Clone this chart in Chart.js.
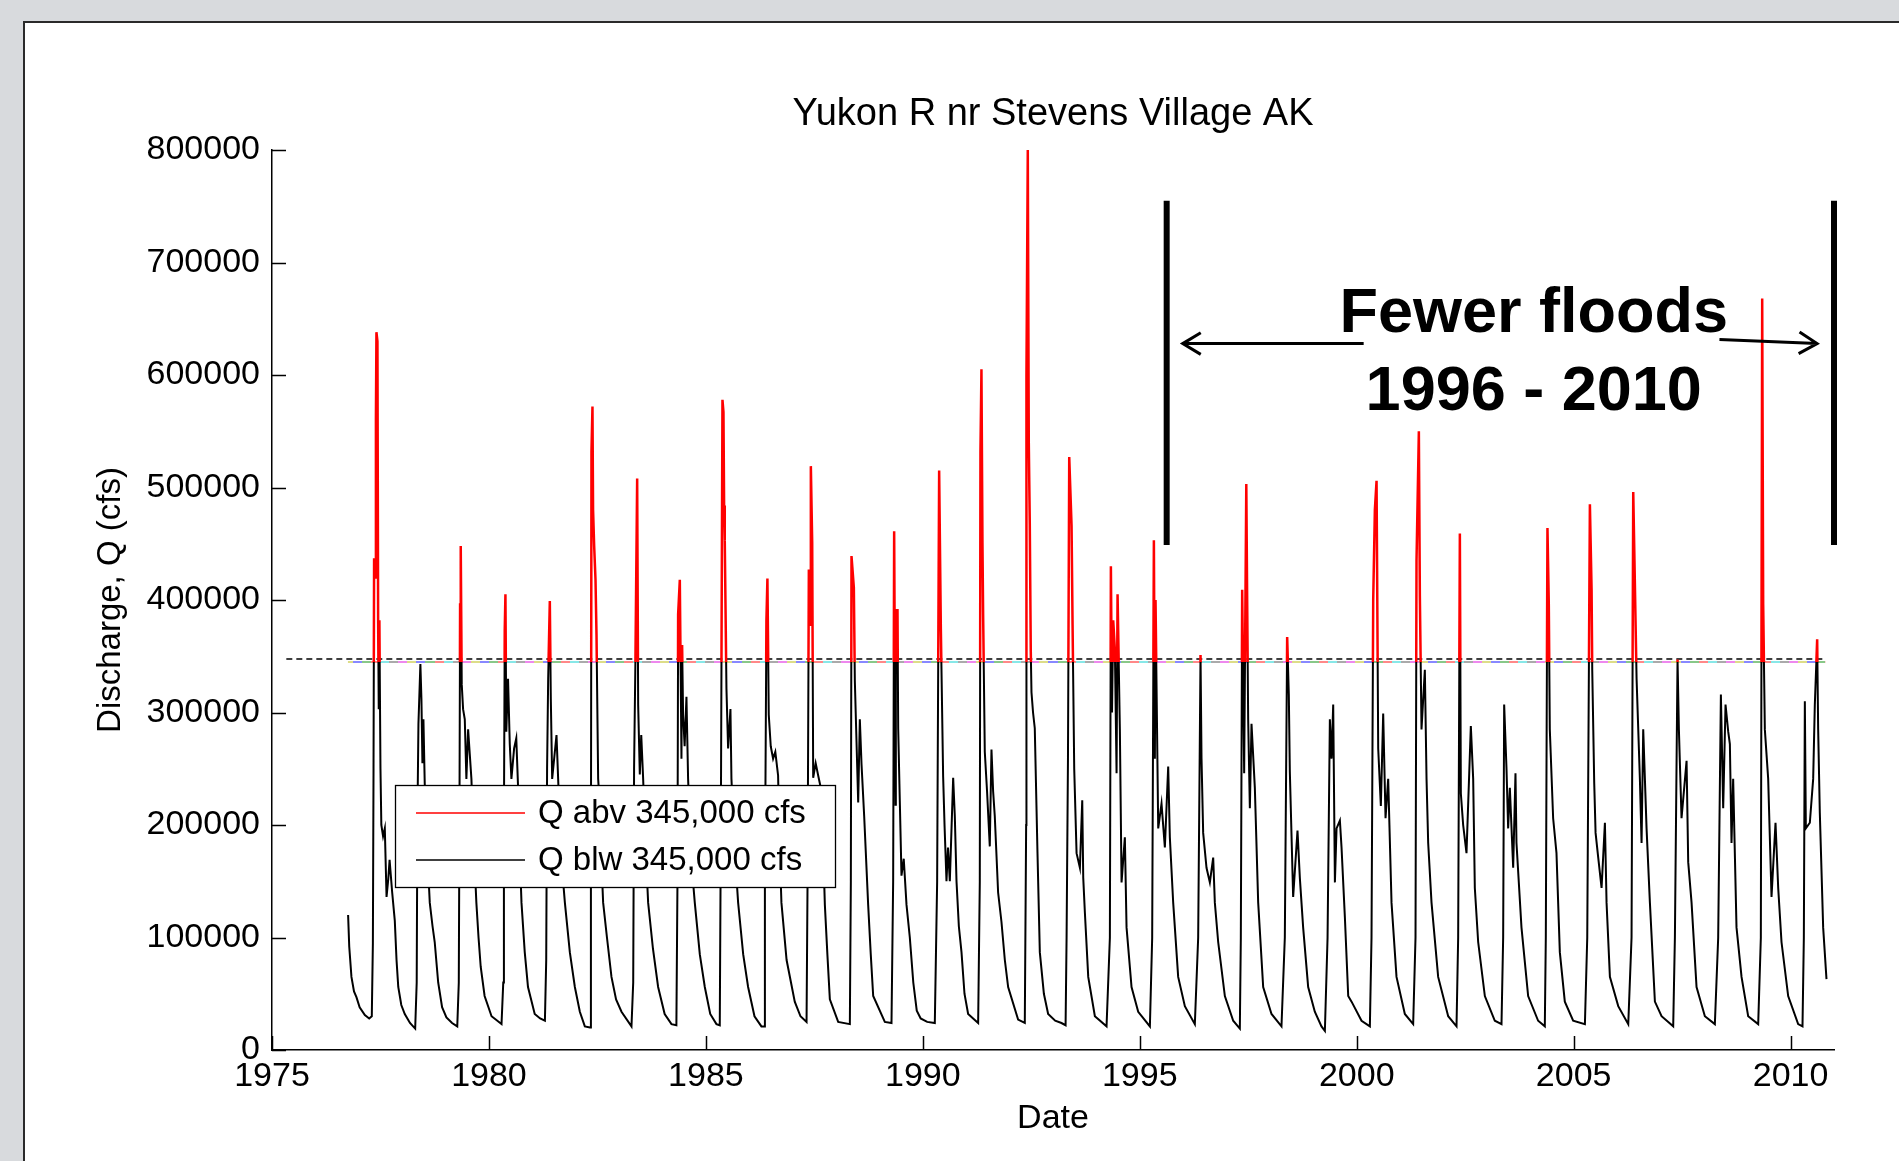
<!DOCTYPE html>
<html>
<head>
<meta charset="utf-8">
<title>Yukon R nr Stevens Village AK</title>
<script src="https://cdn.jsdelivr.net/npm/chart.js@4.4.0/dist/chart.umd.min.js"></script>
<style>
  html, body { margin: 0; padding: 0; overflow: hidden; background: #d8dadd; }
  #panel { position: absolute; left: 23px; top: 21px; width: 1900px; height: 1160px;
           background: #fff; border-left: 2px solid #2a2a2a; border-top: 2px solid #2a2a2a; }
  #wrap { position: absolute; left: 0; top: 0; width: 1899px; height: 1161px; }
</style>
</head>
<body>
<div id="panel"></div>
<div id="wrap"><canvas id="flowChart"></canvas></div>
<script>
// daily discharge, [decimal year, cfs]
var q1970s = [
  [1976.754,120000],[1976.78,92000],[1976.831,65000],[1976.89,52000],[1976.946,47000],[1977.02,38000],[1977.14,31000],[1977.24,28000],[1977.30,30000],
  [1977.325,95000],[1977.34,250000],[1977.353,437000],[1977.38,420000],[1977.395,560000],[1977.407,638000],[1977.43,630000],[1977.446,382000],[1977.46,303000],[1977.475,382000],[1977.50,250000],[1977.52,200000],[1977.56,190000],[1977.60,197000],[1977.64,136000],[1977.68,152000],[1977.71,169000],[1977.77,140000],[1977.83,115000],[1977.87,80000],[1977.91,56000],[1977.98,40000],[1978.06,32000],[1978.18,24000],[1978.30,19000],
  [1978.335,60000],[1978.35,200000],[1978.375,290000],[1978.42,343000],[1978.444,312000],[1978.467,255000],[1978.49,294000],[1978.52,237000],[1978.56,197000],[1978.60,160000],[1978.636,131000],[1978.70,110000],[1978.75,96000],[1978.83,60000],[1978.92,38000],[1979.02,29000],[1979.15,24000],[1979.27,21000],
  [1979.305,60000],[1979.32,200000],[1979.335,396000],[1979.35,448000],[1979.373,325000],[1979.404,303000],[1979.443,294000],[1979.48,241000],[1979.52,285000],[1979.558,263000],[1979.596,241000],[1979.635,197000],[1979.71,131000],[1979.76,100000],[1979.81,74000],[1979.90,48000]
];
var q1980s = [
  [1980.06,30000],[1980.29,23000],
  [1980.33,60000],[1980.345,200000],[1980.364,373000],[1980.38,405000],[1980.40,283000],[1980.44,330000],[1980.48,272000],[1980.518,241000],[1980.58,268000],[1980.63,277000],[1980.67,235000],[1980.71,175000],[1980.75,131000],[1980.825,87000],[1980.90,56000],[1981.055,32000],[1981.18,28000],[1981.29,26000],
  [1981.32,80000],[1981.34,250000],[1981.365,330000],[1981.403,399000],[1981.426,312000],[1981.457,241000],[1981.503,259000],[1981.557,280000],[1981.595,241000],[1981.657,175000],[1981.75,131000],[1981.864,87000],[1981.98,56000],[1982.095,34000],[1982.21,21000],[1982.33,20000],
  [1982.35,150000],[1982.363,532000],[1982.386,572000],[1982.40,480000],[1982.425,448000],[1982.456,418000],[1982.479,369000],[1982.517,241000],[1982.55,220000],[1982.59,170000],[1982.632,131000],[1982.72,100000],[1982.824,65000],[1982.93,45000],[1983.055,34000],[1983.285,21000],
  [1983.325,60000],[1983.345,250000],[1983.377,350000],[1983.416,508000],[1983.439,307000],[1983.477,245000],[1983.51,280000],[1983.554,241000],[1983.61,180000],[1983.669,131000],[1983.78,90000],[1983.899,56000],[1984.05,32000],[1984.207,23000],[1984.32,22000],
  [1984.345,150000],[1984.36,387000],[1984.399,418000],[1984.437,259000],[1984.452,360000],[1984.475,298000],[1984.51,270000],[1984.552,314000],[1984.59,241000],[1984.66,170000],[1984.744,131000],[1984.86,85000],[1984.975,56000],[1985.10,32000],[1985.243,23000],[1985.32,22000],
  [1985.345,200000],[1985.382,578000],[1985.405,567000],[1985.42,484000],[1985.435,453000],[1985.474,321000],[1985.512,268000],[1985.566,303000],[1985.589,241000],[1985.66,180000],[1985.743,131000],[1985.86,85000],[1985.973,56000],[1986.12,30000],[1986.28,21000],[1986.34,21000],
  [1986.36,150000],[1986.395,382000],[1986.418,419000],[1986.449,298000],[1986.495,270000],[1986.549,259000],[1986.60,265000],[1986.664,244000],[1986.70,180000],[1986.741,131000],[1986.86,80000],[1987.048,43000],[1987.18,30000],[1987.32,25000],
  [1987.343,150000],[1987.373,427000],[1987.40,378000],[1987.419,519000],[1987.45,451000],[1987.473,242000],[1987.53,255000],[1987.588,244000],[1987.665,230000],[1987.742,129000],[1987.80,85000],[1987.857,45000],[1988.049,25000],[1988.318,23000],
  [1988.341,150000],[1988.356,439000],[1988.41,411000],[1988.433,328000],[1988.51,220000],[1988.548,294000],[1988.587,254000],[1988.648,208000],[1988.74,129000],[1988.80,85000],[1988.856,48000],[1989.124,25000],[1989.278,24000],
  [1989.316,150000],[1989.339,461000],[1989.37,218000],[1989.378,391000],[1989.416,391000],[1989.432,286000],[1989.47,220000],[1989.508,155000],[1989.56,170000],[1989.624,129000],[1989.70,100000],[1989.78,60000],[1989.86,35000],[1989.95,28000]
];
var q1990s = [
  [1990.10,25000],[1990.276,24000],
  [1990.33,150000],[1990.376,515000],[1990.415,375000],[1990.468,243000],[1990.50,200000],[1990.545,150000],[1990.58,180000],[1990.622,150000],[1990.699,242000],[1990.737,208000],[1990.776,150000],[1990.83,110000],[1990.891,87000],[1990.96,50000],[1991.044,32000],[1991.275,24000],
  [1991.313,150000],[1991.328,532000],[1991.351,605000],[1991.374,451000],[1991.39,386000],[1991.428,265000],[1991.48,230000],[1991.543,181000],[1991.582,267000],[1991.62,230000],[1991.658,208000],[1991.735,140000],[1991.812,114000],[1991.89,80000],[1991.966,56000],[1992.196,27000],[1992.35,24000],
  [1992.381,200000],[1992.388,600000],[1992.419,800000],[1992.442,540000],[1992.465,467000],[1992.488,354000],[1992.504,318000],[1992.54,300000],[1992.58,286000],[1992.642,176000],[1992.696,87000],[1992.79,50000],[1992.888,32000],[1993.05,26000],[1993.195,24000],[1993.29,22000],
  [1993.313,100000],[1993.345,259000],[1993.374,527000],[1993.428,466000],[1993.451,378000],[1993.489,250000],[1993.543,175000],[1993.62,162000],[1993.674,222000],[1993.697,153000],[1993.735,122000],[1993.812,65000],[1993.965,30000],[1994.234,21000],
  [1994.311,100000],[1994.334,430000],[1994.36,300000],[1994.388,382000],[1994.426,356000],[1994.465,246000],[1994.488,405000],[1994.541,285000],[1994.58,149000],[1994.656,189000],[1994.695,109000],[1994.81,56000],[1994.964,34000],[1995.233,21000],
  [1995.286,100000],[1995.325,453000],[1995.348,259000],[1995.363,400000],[1995.425,197000],[1995.501,219000],[1995.578,180000],[1995.655,252000],[1995.693,189000],[1995.77,131000],[1995.885,65000],[1996.039,39000],[1996.269,23000],
  [1996.346,100000],[1996.40,351000],[1996.423,259000],[1996.461,193000],[1996.538,162000],[1996.615,149000],[1996.692,171000],[1996.73,131000],[1996.807,96000],[1996.961,48000],[1997.153,26000],[1997.306,19000],
  [1997.329,100000],[1997.36,409000],[1997.406,246000],[1997.455,503000],[1997.475,400000],[1997.498,294000],[1997.537,215000],[1997.575,290000],[1997.652,233000],[1997.729,131000],[1997.844,56000],[1998.036,32000],[1998.266,21000],
  [1998.343,100000],[1998.397,367000],[1998.435,316000],[1998.458,248000],[1998.535,136000],[1998.635,195000],[1998.689,153000],[1998.765,109000],[1998.881,56000],[1999.034,34000],[1999.188,21000],[1999.266,17000],
  [1999.328,100000],[1999.381,294000],[1999.42,259000],[1999.458,307000],[1999.497,149000],[1999.535,197000],[1999.612,204000],[1999.65,180000],[1999.727,118000],[1999.804,48000],[1999.881,43000]
];
var q2000s = [
  [2000.111,26000],[2000.303,21000],
  [2000.341,100000],[2000.38,400000],[2000.418,480000],[2000.457,506000],[2000.495,268000],[2000.556,217000],[2000.61,299000],[2000.664,206000],[2000.725,241000],[2000.802,131000],[2000.917,65000],[2001.109,32000],[2001.301,23000],
  [2001.355,100000],[2001.378,435000],[2001.432,550000],[2001.455,404000],[2001.493,285000],[2001.57,338000],[2001.609,241000],[2001.647,184000],[2001.724,131000],[2001.877,65000],[2002.108,30000],[2002.30,21000],
  [2002.338,100000],[2002.377,459000],[2002.40,228000],[2002.453,200000],[2002.53,175000],[2002.63,288000],[2002.684,241000],[2002.722,144000],[2002.799,96000],[2002.953,48000],[2003.183,26000],[2003.337,23000],
  [2003.375,100000],[2003.398,307000],[2003.452,250000],[2003.49,197000],[2003.529,233000],[2003.606,162000],[2003.659,246000],[2003.682,184000],[2003.797,109000],[2003.951,48000],[2004.181,26000],[2004.335,21000],
  [2004.358,100000],[2004.396,464000],[2004.427,396000],[2004.45,285000],[2004.527,206000],[2004.604,175000],[2004.681,87000],[2004.796,43000],[2004.988,26000],[2005.259,23000],
  [2005.313,100000],[2005.374,485000],[2005.413,409000],[2005.428,338000],[2005.474,237000],[2005.505,193000],[2005.566,171000],[2005.643,144000],[2005.72,202000],[2005.758,131000],[2005.835,65000],[2006.027,39000],[2006.258,23000],
  [2006.334,100000],[2006.373,496000],[2006.45,330000],[2006.526,241000],[2006.565,184000],[2006.603,285000],[2006.68,197000],[2006.757,131000],[2006.872,43000],[2007.026,30000],[2007.294,21000],
  [2007.333,100000],[2007.394,347000],[2007.425,285000],[2007.486,206000],[2007.602,257000],[2007.64,167000],[2007.717,131000],[2007.832,56000],[2008.024,30000],[2008.254,23000],
  [2008.331,100000],[2008.393,316000],[2008.446,215000],[2008.50,307000],[2008.562,283000],[2008.60,272000],[2008.638,184000],[2008.676,241000],[2008.753,109000],[2008.869,65000],[2009.022,30000],[2009.253,23000],
  [2009.314,100000],[2009.345,668000],[2009.368,396000],[2009.406,285000],[2009.483,241000],[2009.56,136000],[2009.652,202000],[2009.714,144000],[2009.79,96000],[2009.944,48000],[2010.174,23000],[2010.274,21000]
];
var q2010s = [
  [2010.305,100000],[2010.328,310000],[2010.351,197000],[2010.443,202000],[2010.52,241000],[2010.558,307000],[2010.612,365000],[2010.635,285000],[2010.673,211000],[2010.75,109000],[2010.827,63000]
];

var floodThreshold = 345000;
var dashedLineX = [1975.33, 2010.79];
var dashedLineY = [347500, 347500];
var colorLineX = [1976.75, 2010.8];
var colorLineY = [345000, 345000];

var xTicks = [1975, 1980, 1985, 1990, 1995, 2000, 2005, 2010];
var xTickLabels = ['1975', '1980', '1985', '1990', '1995', '2000', '2005', '2010'];
var yTicks = [0, 100000, 200000, 300000, 400000, 500000, 600000, 700000, 800000];
var yTickLabels = ['0', '100000', '200000', '300000', '400000', '500000', '600000', '700000', '800000'];

var chartTitle = 'Yukon R nr Stevens Village AK';
var legendLabels = ['Q abv 345,000 cfs', 'Q blw 345,000 cfs'];
var legendColors = ['#ff0000', '#000000'];

// annotation: bracket bars, arrows and note (data units)
var barYears = [1995.62, 2011.0];
var barRange = [449000, 755000];
var arrowLeft = [[2000.16, 627900], [1995.99, 627900]];
var arrowRight = [[2008.36, 631600], [2010.61, 627900]];
var noteLines = ['Fewer floods', '1996 - 2010'];
var noteX = 2004.08;
var noteY = [638400, 568800];

var dashColors = ['#ee88ee', '#dddd88', '#8888ff', '#88c888', '#ff8888', '#88e8e8', '#aaaaaa'];

var FONT = '"Liberation Sans", Arial, Helvetica, sans-serif';

var allFlow = q1970s.concat(q1980s, q1990s, q2000s, q2010s);
function toPts(arr) { return arr.map(function (p) { return { x: p[0], y: p[1] }; }); }
function pairPts(xs, ys) { return xs.map(function (x, i) { return { x: x, y: ys[i] }; }); }

// red only above the threshold, black only below
var thresholdClip = {
  id: 'thresholdClip',
  beforeDatasetDraw: function (chart, args) {
    var side = chart.data.datasets[args.index].clipSide;
    if (!side) return;
    var area = chart.chartArea;
    var yCut = chart.scales.y.getPixelForValue(floodThreshold);
    var ctx = chart.ctx;
    ctx.save();
    ctx.beginPath();
    if (side === 'above') ctx.rect(area.left - 5, 0, area.right - area.left + 10, yCut);
    else ctx.rect(area.left - 5, yCut, area.right - area.left + 10, chart.height - yCut);
    ctx.clip();
  },
  afterDatasetDraw: function (chart, args) {
    if (chart.data.datasets[args.index].clipSide) chart.ctx.restore();
  }
};

// matlab style inward ticks + title over the axes
var inwardTicks = {
  id: 'inwardTicks',
  afterDatasetsDraw: function (chart) {
    var ctx = chart.ctx, a = chart.chartArea, xs = chart.scales.x, ys = chart.scales.y;
    ctx.save();
    ctx.strokeStyle = '#000';
    ctx.lineWidth = 1.5;
    ctx.beginPath();
    yTicks.forEach(function (v) {
      var y = Math.round(ys.getPixelForValue(v)) + 0.5;
      ctx.moveTo(a.left, y); ctx.lineTo(a.left + 14, y);
    });
    xTicks.forEach(function (v) {
      var x = Math.round(xs.getPixelForValue(v)) + 0.5;
      ctx.moveTo(x, a.bottom); ctx.lineTo(x, a.bottom - 14);
    });
    ctx.stroke();

    ctx.fillStyle = '#000';
    ctx.font = '38px ' + FONT;
    ctx.textAlign = 'center';
    ctx.textBaseline = 'middle';
    ctx.fillText(chartTitle, (a.left + a.right) / 2, a.top - 35);
    ctx.restore();
  }
};

var notes = {
  id: 'notes',
  afterDatasetsDraw: function (chart) {
    var ctx = chart.ctx, xs = chart.scales.x, ys = chart.scales.y;
    ctx.save();
    // bracket bars
    ctx.strokeStyle = '#000';
    ctx.lineWidth = 6;
    ctx.lineCap = 'butt';
    barYears.forEach(function (yr) {
      var x = xs.getPixelForValue(yr);
      ctx.beginPath();
      ctx.moveTo(x, ys.getPixelForValue(barRange[0]));
      ctx.lineTo(x, ys.getPixelForValue(barRange[1]));
      ctx.stroke();
    });
    // arrows
    ctx.lineWidth = 3;
    [arrowLeft, arrowRight].forEach(function (ar) {
      var x0 = xs.getPixelForValue(ar[0][0]), y0 = ys.getPixelForValue(ar[0][1]);
      var x1 = xs.getPixelForValue(ar[1][0]), y1 = ys.getPixelForValue(ar[1][1]);
      var ang = Math.atan2(y1 - y0, x1 - x0), hl = 21, ha = 0.54;
      ctx.beginPath();
      ctx.moveTo(x0, y0); ctx.lineTo(x1, y1);
      ctx.moveTo(x1 - hl * Math.cos(ang - ha), y1 - hl * Math.sin(ang - ha));
      ctx.lineTo(x1, y1);
      ctx.lineTo(x1 - hl * Math.cos(ang + ha), y1 - hl * Math.sin(ang + ha));
      ctx.stroke();
    });
    // note text
    ctx.fillStyle = '#000';
    ctx.textAlign = 'center';
    ctx.textBaseline = 'alphabetic';
    ctx.font = 'bold 63px ' + FONT;
    noteLines.forEach(function (t, i) {
      ctx.fillText(t, xs.getPixelForValue(noteX), ys.getPixelForValue(noteY[i]));
    });

    // legend box
    var L = 395, T = 785, W = 440, H = 102;
    ctx.fillStyle = '#fff';
    ctx.fillRect(L, T, W, H);
    ctx.lineWidth = 1.3;
    ctx.strokeStyle = '#000';
    ctx.strokeRect(L + 0.5, T + 0.5, W, H);
    ctx.font = '33px ' + FONT;
    ctx.textAlign = 'left';
    ctx.textBaseline = 'middle';
    legendLabels.forEach(function (lab, i) {
      var y = T + 28 + i * 47;
      ctx.strokeStyle = legendColors[i];
      ctx.lineWidth = 1.5;
      ctx.beginPath();
      ctx.moveTo(L + 21, y); ctx.lineTo(L + 130, y);
      ctx.stroke();
      ctx.fillStyle = '#000';
      ctx.fillText(lab, L + 143, y + 1);
    });
    ctx.restore();
  }
};

new Chart(document.getElementById('flowChart'), {
  type: 'line',
  data: {
    datasets: [
      { label: legendLabels[0], data: toPts(allFlow), borderColor: '#ff0000', borderWidth: 2.5,
        pointRadius: 0, tension: 0, clipSide: 'above', clip: 6 },
      { label: legendLabels[1], data: toPts(allFlow), borderColor: '#000000', borderWidth: 2,
        pointRadius: 0, tension: 0, clipSide: 'below' },
      { label: 'threshold', data: pairPts(dashedLineX, dashedLineY), borderColor: '#000', borderWidth: 1.5,
        borderDash: [6, 4], pointRadius: 0 },
      { label: 'threshold2', data: pairPts(colorLineX, colorLineY), borderWidth: 2, pointRadius: 0,
        borderColor: function (c) {
          var area = c.chart.chartArea;
          if (!area) return '#aaa';
          var g = c.chart.ctx.createLinearGradient(area.left, 0, area.right, 0);
          var n = Math.floor((area.right - area.left) / 9);
          for (var i = 0; i < n; i++) {
            var col = dashColors[i % dashColors.length];
            g.addColorStop(i / n, col);
            g.addColorStop((i + 1) / n - 0.000001, col);
          }
          return g;
        } }
    ]
  },
  options: {
    responsive: true,
    maintainAspectRatio: false,
    animation: false,
    parsing: false,
    normalized: true,
    events: [],
    layout: { padding: { left: 0, right: 65, top: 150, bottom: 0 } },
    plugins: {
      legend: { display: false },
      tooltip: { enabled: false },
      title: { display: false }
    },
    scales: {
      x: {
        type: 'linear', min: 1975, max: 2011,
        afterBuildTicks: function (s) { s.ticks = xTicks.map(function (v) { return { value: v }; }); },
        afterFit: function (s) { s.height = 111; },
        grid: { display: false, drawTicks: false },
        border: { display: true, color: '#000', width: 1.5 },
        ticks: {
          autoSkip: false, maxRotation: 0, padding: 6, color: '#000',
          font: { family: FONT, size: 34 },
          callback: function (v) { return xTickLabels[xTicks.indexOf(v)]; }
        },
        title: { display: true, text: 'Date', color: '#000', font: { family: FONT, size: 34 },
                 padding: { top: 0, bottom: 22 } }
      },
      y: {
        type: 'linear', min: 0, max: 800000,
        afterBuildTicks: function (s) { s.ticks = yTicks.map(function (v) { return { value: v }; }); },
        afterFit: function (s) { s.width = 272; },
        grid: { display: false, drawTicks: false },
        border: { display: true, color: '#000', width: 1.5 },
        ticks: {
          padding: 12, color: '#000', font: { family: FONT, size: 34 },
          callback: function (v) { return yTickLabels[yTicks.indexOf(v)]; }
        },
        title: { display: true, text: 'Discharge, Q (cfs)', color: '#000', font: { family: FONT, size: 33 },
                 padding: { top: 91, bottom: 0 } }
      }
    }
  },
  plugins: [thresholdClip, inwardTicks, notes]
});
</script>
</body>
</html>
